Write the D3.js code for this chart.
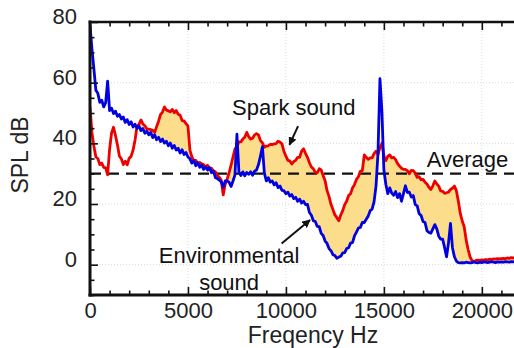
<!DOCTYPE html>
<html>
<head>
<meta charset="utf-8">
<script src="https://cdn.jsdelivr.net/npm/d3@7/dist/d3.min.js"></script>
<style>
  html, body { margin: 0; padding: 0; background: #fff; }
  svg { display: block; font-family: "Liberation Sans", Arial, sans-serif; }
</style>
</head>
<body>
<div id="chart"></div>
<script>
const FREQ_STEP = 100;

const envSound = [
    79, 71, 64.5, 57.5, 56.5, 53.5, 54.2, 52, 53.4, 60.5,
    50.8, 51.6, 49.8, 50.6, 48.9, 49.5, 48, 48.7, 46.9, 47.8,
    46.2, 47.1, 45.4, 46.3, 44.9, 45.7, 44.2, 44.9, 43.3, 44,
    42.8, 43.6, 41.9, 42.8, 41.2, 42, 40.6, 41.4, 40.1, 40.7,
    39.2, 40.1, 38.4, 39.3, 37.8, 38.4, 36.8, 37.9, 36.3, 37,
    35.5, 34.9, 33.5, 34.3, 32.6, 33.6, 32.1, 32.9, 31.4, 32.2,
    31.2, 32, 30.3, 30.9, 28.7, 28.4, 27.9, 27.3, 25.5, 27.6,
    27.6, 27.1, 25.8, 27.6, 29.6, 43, 30.6, 29.4, 30.6, 29.3,
    30.4, 29.8, 30.6, 29.5, 30.8, 31.2, 33, 35.8, 38.9, 30.2,
    27.6, 28.7, 27.2, 27.6, 26.3, 27, 25.4, 25.9, 24.5, 24.4,
    23.4, 23.9, 22.6, 23.1, 21.8, 22.2, 20.9, 21.6, 20.3, 20.9,
    19.8, 19.9, 17.2, 16.3, 14.5, 14.2, 12.6, 12.5, 10.3, 9.6,
    7.8, 7, 5.3, 4.6, 3.3, 3, 2.1, 2.5, 2.8, 3.9,
    4, 5.3, 5.6, 7.1, 7.3, 9.5, 10.7, 12.1, 12.3, 13.9,
    13.9, 15, 16, 17.8, 18.3, 20.8, 26, 36.8, 61.3, 50.5,
    31.2, 26.5, 23.4, 25.3, 23.6, 22.9, 24.1, 22.1, 23.4, 20.9,
    23.4, 26, 23.8, 23.9, 22.3, 22.8, 19.8, 19.4, 16.8, 16.2,
    14.2, 13.9, 11.2, 10.6, 10.4, 11.8, 13.2, 11.8, 9.4, 8.4,
    8.4, 5.6, 2.6, 7.2, 13.6, 5.6, 2.6, 1.2, 0.7, 0.6,
    0.7, 0.6, 0.8, 0.7, 0.6, 0.7, 0.9, 0.7, 0.6, 0.8,
    0.7, 0.9, 0.8, 0.7, 0.8, 1, 0.8, 0.7, 0.9, 0.8,
    0.9, 0.8, 1, 0.9, 0.8, 1, 0.9, 1.1, 0.9, 1,
    1
];

const sparkSound = [
    52, 43.5, 39, 35.5, 35, 33, 33.5, 32.1, 31.9, 29.6,
    38, 43.4, 45.3, 42.6, 39.5, 35.8, 34.9, 33, 34.1, 32.9,
    35.1, 35.7, 37.8, 41.1, 45.6, 46.3, 47.7, 46.4, 45.8, 44.8,
    44.7, 44.5, 44.3, 43.6, 45.5, 47.3, 49.5, 50.3, 52, 51,
    50.7, 50.4, 51.2, 50.1, 50.8, 49.6, 49.3, 47.5, 47.4, 46.5,
    45.7, 37.8, 35.5, 34.2, 34.4, 33.3, 33.7, 33.2, 33, 32.1,
    32.8, 31.6, 31.8, 30.9, 30.6, 29.4, 28.8, 27.8, 23, 26.5,
    28.2, 30.3, 32.8, 35.5, 38.2, 38.8, 40.5, 40.5, 41.4, 42,
    43.6, 42.2, 41.4, 41.7, 42.8, 43.2, 42.8, 40.9, 40.2, 38.7,
    39.1, 39.2, 39.7, 39.6, 39.8, 39.9, 40.7, 40.4, 39.8, 37.3,
    35.8, 34.4, 34.2, 33.2, 34, 34.4, 35.4, 35.4, 37.4, 38.2,
    36.7, 35.4, 33.6, 32.2, 31.6, 30.4, 30.3, 31.6, 31.2, 29.4,
    27.7, 24.4, 22.5, 19.9, 18.2, 16.4, 15.5, 14.5, 16.4, 17.8,
    19.8, 20.9, 22.8, 23.4, 25.3, 26.4, 28.1, 29, 30.8, 31,
    36.2, 35.4, 34.7, 35.2, 35.2, 36.6, 37.4, 36.3, 38.7, 40,
    36, 34.3, 35.7, 36.2, 35.2, 35.4, 34.6, 33.3, 32.5, 31.8,
    31.4, 31.4, 31, 30, 31.1, 31, 30.2, 28.8, 29, 28,
    28.1, 27.2, 26.6, 25.5, 24.8, 26, 27.6, 26.6, 25.9, 24.3,
    24.2, 23.5, 23.7, 23.9, 24.8, 25.2, 25.9, 24.4, 21, 16.9,
    14.4, 12.5, 8.1, 5, 2.6, 1.3, 1, 1.4, 1.5, 1.4,
    1.6, 1.5, 1.7, 1.6, 1.8, 1.7, 1.9, 1.8, 2, 1.9,
    2, 2.1, 2, 2.2, 2.1, 2.3, 2.2, 2.3, 2.4, 2.3,
    2.4
];

const xMajorTicks = [0, 5000, 10000, 15000, 20000];
const yMajorTicks = [0, 20, 40, 60, 80];
const averageDb = 30;

// annotation anchors in data units: [Hz, dB]
const sparkLabel = {text: 'Spark sound', at: [7250, 49.3]};
const sparkArrow = {from: [10620, 45.7], to: [10180, 39.5]};
const envLabel = {lines: ['Environmental', 'sound'], at: [7100, 0.6], lineGapDb: -8.9};
const envArrow = {from: [9780, 7.0], to: [11230, 14.7]};
const avgLabel = {text: 'Average', at: [17190, 32.2]};

const W = 514;
const H = 348;

const x = d3.scaleLinear().domain([0, 22050]).range([90, 522]);
const y = d3.scaleLinear().domain([-10, 80]).range([295, 22]);

const freq = d3.range(sparkSound.length).map((i) => i * FREQ_STEP);
const idx = d3.range(sparkSound.length);

const svg = d3.select('#chart')
.append('svg')
.attr('width', W)
.attr('height', H);

svg.append('defs').append('clipPath')
.attr('id', 'plot-clip')
.append('rect')
.attr('x', x(0))
.attr('y', y(80))
.attr('width', x(22050) - x(0))
.attr('height', y(-10) - y(80));

svg.select('defs').append('marker')
.attr('id', 'arrow')
.attr('viewBox', '0 0 10 10')
.attr('refX', 9)
.attr('refY', 5)
.attr('markerWidth', 4.2)
.attr('markerHeight', 4.2)
.attr('orient', 'auto')
.append('path')
.attr('d', 'M0,0 L10,5 L0,10 Z')
.attr('fill', '#111');

// faint dotted grid
const grid = svg.append('g').attr('stroke', '#d9d9d9').attr('stroke-width', 1).attr('stroke-dasharray', '1,2');
grid.selectAll('line.gx')
.data(xMajorTicks.slice(1))
.enter()
.append('line')
.attr('x1', (d) => x(d)).attr('x2', (d) => x(d))
.attr('y1', y(80)).attr('y2', y(-10));
grid.selectAll('line.gy')
.data(yMajorTicks.slice(0, -1))
.enter()
.append('line')
.attr('x1', x(0)).attr('x2', x(22050))
.attr('y1', (d) => y(d)).attr('y2', (d) => y(d));

const plot = svg.append('g').attr('clip-path', 'url(#plot-clip)');

// band where the spark spectrum sits above the environment
const band = d3.area()
.x((i) => x(freq[i]))
.y0((i) => y(envSound[i]))
.y1((i) => y(Math.max(sparkSound[i], envSound[i])));

plot.append('path')
.datum(idx)
.attr('fill', '#fcdd8c')
.attr('d', band);

plot.append('line')
.attr('x1', x(0)).attr('x2', x(22050))
.attr('y1', y(averageDb)).attr('y2', y(averageDb))
.attr('stroke', '#111')
.attr('stroke-width', 2.4)
.attr('stroke-dasharray', '11,7');

const lineOf = (series) => d3.line()
.x((i) => x(freq[i]))
.y((i) => y(series[i]));

plot.append('path')
.datum(idx)
.attr('fill', 'none')
.attr('stroke', '#ee0000')
.attr('stroke-width', 2.8)
.attr('stroke-linejoin', 'round')
.attr('d', lineOf(sparkSound));

plot.append('path')
.datum(idx)
.attr('fill', 'none')
.attr('stroke', '#0000e0')
.attr('stroke-width', 2.8)
.attr('stroke-linejoin', 'round')
.attr('d', lineOf(envSound));

// axes: ticks point inward on all four sides
const xMinor = d3.range(0, 22001, 1000).filter((v) => v % 5000 !== 0);
const yMinor = d3.range(-10, 81, 5).filter((v) => v % 20 !== 0);

const styleAxis = (g) => {
    g.select('.domain').remove();
    g.selectAll('line').attr('stroke', '#111').attr('stroke-width', 1.6);
    g.selectAll('text').attr('fill', '#222').style('font-size', '22px');
};

svg.append('g')
.attr('transform', `translate(0,${y(-10)})`)
.call(d3.axisBottom(x).tickValues(xMajorTicks).tickSizeInner(-8).tickSizeOuter(0).tickPadding(7).tickFormat(d3.format('d')))
.call(styleAxis);
svg.append('g')
.attr('transform', `translate(0,${y(-10)})`)
.call(d3.axisBottom(x).tickValues(xMinor).tickSizeInner(-4.5).tickSizeOuter(0).tickFormat(''))
.call(styleAxis);

svg.append('g')
.attr('transform', `translate(0,${y(80)})`)
.call(d3.axisTop(x).tickValues(xMajorTicks).tickSizeInner(-8).tickSizeOuter(0).tickFormat(''))
.call(styleAxis);
svg.append('g')
.attr('transform', `translate(0,${y(80)})`)
.call(d3.axisTop(x).tickValues(xMinor).tickSizeInner(-4.5).tickSizeOuter(0).tickFormat(''))
.call(styleAxis);

svg.append('g')
.attr('transform', `translate(${x(0)},0)`)
.call(d3.axisLeft(y).tickValues(yMajorTicks).tickSizeInner(-8).tickSizeOuter(0).tickPadding(13))
.call(styleAxis)
.call((g) => g.selectAll('text').attr('y', -5.5));
svg.append('g')
.attr('transform', `translate(${x(0)},0)`)
.call(d3.axisLeft(y).tickValues(yMinor).tickSizeInner(-4.5).tickSizeOuter(0).tickFormat(''))
.call(styleAxis);

svg.append('g')
.attr('transform', `translate(${x(22050)},0)`)
.call(d3.axisRight(y).tickValues(yMajorTicks).tickSizeInner(-8).tickSizeOuter(0).tickFormat(''))
.call(styleAxis);

// frame
const frame = svg.append('g').attr('stroke', '#111').attr('stroke-linecap', 'square');
frame.append('line').attr('x1', x(0)).attr('x2', x(0)).attr('y1', y(80)).attr('y2', y(-10)).attr('stroke-width', 3);
frame.append('line').attr('x1', x(0)).attr('x2', x(22050)).attr('y1', y(-10)).attr('y2', y(-10)).attr('stroke-width', 3);
frame.append('line').attr('x1', x(0)).attr('x2', x(22050)).attr('y1', y(80)).attr('y2', y(80)).attr('stroke-width', 2.5);

// axis titles
svg.append('text')
.attr('x', 313)
.attr('y', 343)
.attr('text-anchor', 'middle')
.attr('fill', '#222')
.style('font-size', '23px')
.text('Freqency Hz');

svg.append('text')
.attr('transform', 'translate(28,155) rotate(-90)')
.attr('text-anchor', 'middle')
.attr('fill', '#222')
.style('font-size', '23px')
.text('SPL dB');

// annotations
const notes = svg.append('g').attr('fill', '#111').style('font-size', '22px');

notes.append('text')
.attr('x', x(sparkLabel.at[0]))
.attr('y', y(sparkLabel.at[1]))
.text(sparkLabel.text);

notes.append('text')
.attr('x', x(avgLabel.at[0]))
.attr('y', y(avgLabel.at[1]))
.text(avgLabel.text);

notes.selectAll('text.env')
.data(envLabel.lines)
.enter()
.append('text')
.attr('class', 'env')
.attr('text-anchor', 'middle')
.attr('x', x(envLabel.at[0]))
.attr('y', (d, i) => y(envLabel.at[1] + i * envLabel.lineGapDb))
.text((d) => d);

[sparkArrow, envArrow].forEach((a) => {
    svg.append('line')
    .attr('x1', x(a.from[0])).attr('y1', y(a.from[1]))
    .attr('x2', x(a.to[0])).attr('y2', y(a.to[1]))
    .attr('stroke', '#111')
    .attr('stroke-width', 2)
    .attr('marker-end', 'url(#arrow)');
});
</script>
</body>
</html>
